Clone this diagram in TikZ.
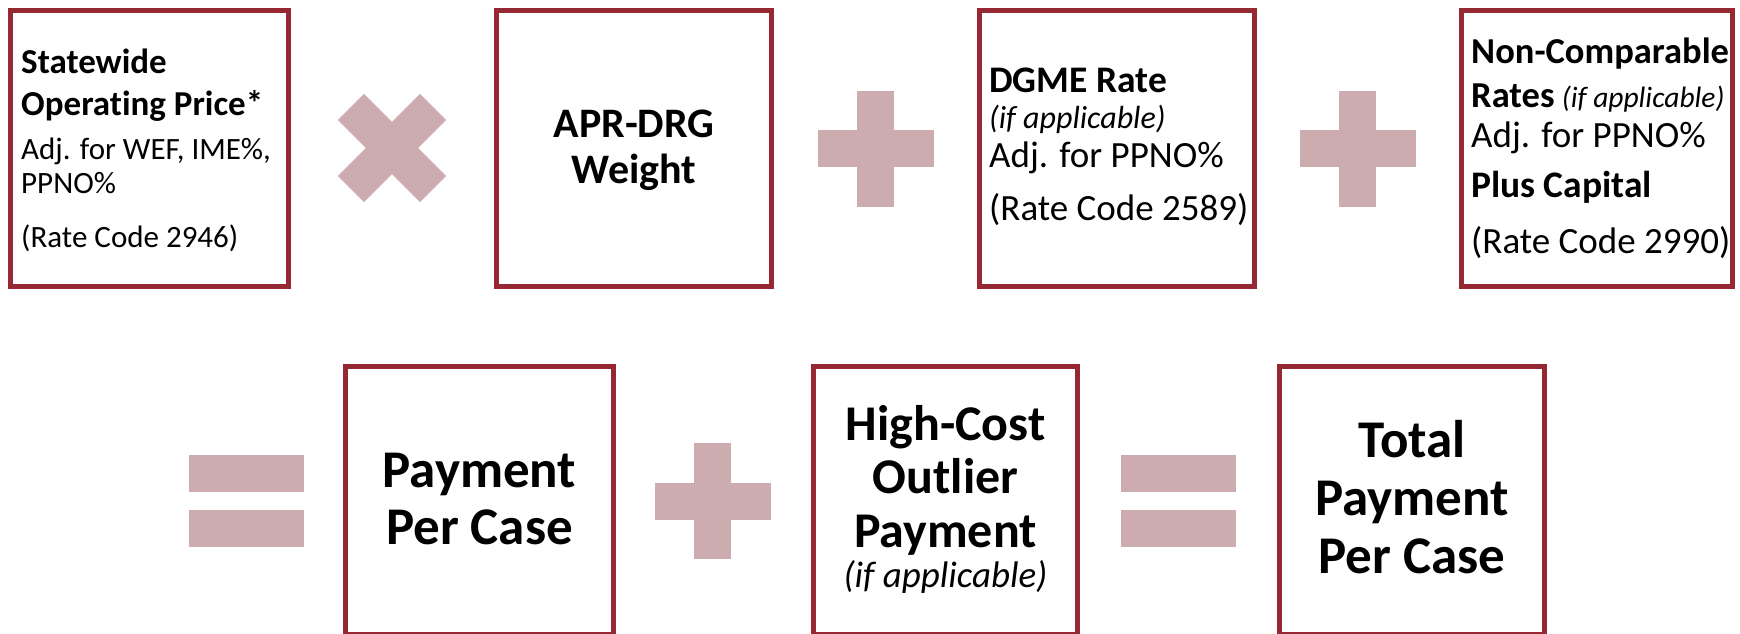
\documentclass[tikz,border=0pt]{standalone}
\usepackage{fontspec}
\setmainfont[Ligatures=NoCommon]{Carlito}
\definecolor{boxred}{RGB}{150,40,52}
\definecolor{opfill}{RGB}{205,172,175}
\tikzset{
  termbox/.style={draw=boxred, line width=5pt, inner sep=0pt, outer sep=0pt, rectangle},
  lt/.style={inner sep=0pt, anchor=base west},
  ct/.style={inner sep=0pt, anchor=base},
  plussign/.pic={
    \fill[opfill] (-58,-18.5) rectangle (58,18.5);
    \fill[opfill] (-18.5,-58) rectangle (18.5,58);
  },
  timessign/.pic={
    \fill[opfill,rotate=45] (-58,-18.5) rectangle (58,18.5);
    \fill[opfill,rotate=-45] (-58,-18.5) rectangle (58,18.5);
  },
  equalsign/.pic={
    \fill[opfill] (-57.5,-46) rectangle (57.5,-9);
    \fill[opfill] (-57.5,9) rectangle (57.5,46);
  }
}
\newcommand{\fsA}{\fontsize{31}{37}\selectfont}
\newcommand{\fsAb}{\fontsize{35}{42}\selectfont}
\newcommand{\fsB}{\fontsize{37}{44}\selectfont}
\newcommand{\fsBb}{\fontsize{37.5}{45}\selectfont}
\newcommand{\fsBn}{\fontsize{36.5}{44}\selectfont}
\newcommand{\fsI}{\fontsize{32}{38}\selectfont}
\newcommand{\fsIs}{\fontsize{29.5}{35}\selectfont}
\newcommand{\fsC}{\fontsize{42}{50}\selectfont}
\newcommand{\fsD}{\fontsize{53}{64}\selectfont}
\newcommand{\fsDs}{\fontsize{50}{60}\selectfont}
\newcommand{\fsE}{\fontsize{37}{44}\selectfont}
\begin{document}
\begin{tikzpicture}[x=1pt,y=-1pt]
\useasboundingbox (0,0) rectangle (1740,633);

% top row: boxes
\node[termbox, minimum width=278pt, minimum height=276pt] (b1) at (149.5,148.5) {};
\node[termbox, minimum width=275pt, minimum height=276pt] (b2) at (634,148.5) {};
\node[termbox, minimum width=275pt, minimum height=276pt] (b3) at (1117,148.5) {};
\node[termbox, minimum width=271pt, minimum height=276pt] (b4) at (1597,148.5) {};

% bottom row: boxes
\node[termbox, minimum width=268pt, minimum height=268pt] (b5) at (479.5,500.5) {};
\node[termbox, minimum width=264pt, minimum height=268pt] (b6) at (945.5,500.5) {};
\node[termbox, minimum width=265pt, minimum height=268pt] (b7) at (1412,500.5) {};

% operators
\pic at (392,148) {timessign};
\pic at (875.5,148.5) {plussign};
\pic at (1357.5,148.5) {plussign};
\pic at (246.5,501) {equalsign};
\pic at (712.5,501) {plussign};
\pic at (1178.5,501) {equalsign};

% box 1 text
\node[lt, font=\fsAb\bfseries] (t1a) at (21,73) {Statewide};
\node[lt, font=\fsAb\bfseries] (t1b) at (21,115) {Operating Price*};
\node[lt, font=\fsA] (t1c) at (21,159) {Adj. for WEF, IME\%,};
\node[lt, font=\fsA] (t1d) at (21,193) {PPNO\%};
\node[lt, font=\fsA] (t1e) at (21,247) {(Rate Code 2946)};

% box 2 text
\node[ct, font=\fsC\bfseries] (t2a) at (634,137) {APR-DRG};
\node[ct, font=\fsC\bfseries] (t2b) at (634,183) {Weight};

% box 3 text
\node[lt, font=\fsBb\bfseries] (t3a) at (989,92) {DGME Rate};
\node[lt, font=\fsI\itshape] (t3b) at (989,128) {(if applicable)};
\node[lt, font=\fsB] (t3c) at (989,167) {Adj. for PPNO\%};
\node[lt, font=\fsB] (t3d) at (989,220) {(Rate Code 2589)};

% box 4 text
\node[lt, font=\fsBn\bfseries] (t4a) at (1471,63) {Non-Comparable};
\node[lt, font=\fsBn] (t4b) at (1471,107) {\textbf{Rates}\hspace{0.2em}{\fsIs\mdseries\itshape (if applicable)}};
\node[lt, font=\fsB] (t4c) at (1471,147) {Adj. for PPNO\%};
\node[lt, font=\fsBb\bfseries] (t4d) at (1471,197) {Plus Capital};
\node[lt, font=\fsB] (t4e) at (1471,253) {(Rate Code 2990)};

% box 5 text
\node[ct, font=\fsD\bfseries] (t5a) at (479.5,487) {Payment};
\node[ct, font=\fsD\bfseries] (t5b) at (479.5,544) {Per Case};

% box 6 text
\node[ct, font=\fsDs\bfseries] (t6a) at (945.5,440) {High-Cost};
\node[ct, font=\fsDs\bfseries] (t6b) at (945.5,493) {Outlier};
\node[ct, font=\fsDs\bfseries] (t6c) at (945.5,547) {Payment};
\node[ct, font=\fsE\itshape] (t6d) at (945.5,587) {(if applicable)};

% box 7 text
\node[ct, font=\fsD\bfseries] (t7a) at (1412,457) {Total};
\node[ct, font=\fsD\bfseries] (t7b) at (1412,515) {Payment};
\node[ct, font=\fsD\bfseries] (t7c) at (1412,573) {Per Case};
\end{tikzpicture}
\end{document}
